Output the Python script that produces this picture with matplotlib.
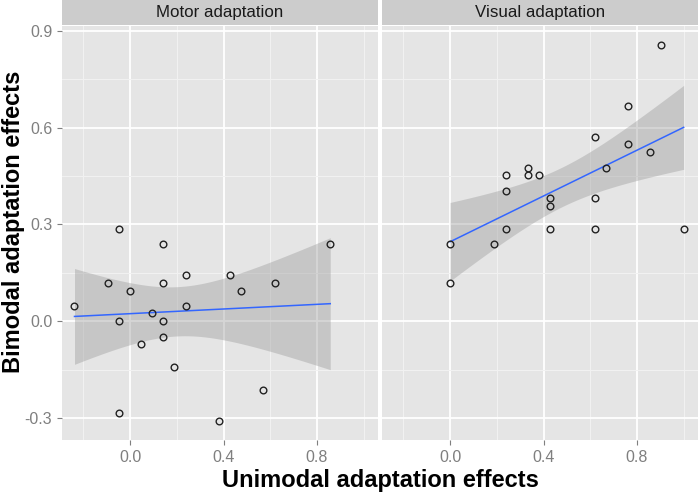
import matplotlib
matplotlib.use("Agg")
import matplotlib.pyplot as plt
import numpy as np

# data
motor_x = [0.857, 0.143, -0.048, 0.238, 0.429, -0.095, 0.143, 0.619, 0.0, 0.476, -0.238,
           0.238, 0.095, -0.048, 0.143, 0.143, 0.048, 0.190, 0.571, -0.048, 0.381]
motor_y = [0.238, 0.238, 0.286, 0.143, 0.143, 0.119, 0.119, 0.119, 0.095, 0.095, 0.048,
           0.048, 0.024, 0.0, 0.0, -0.048, -0.071, -0.143, -0.214, -0.286, -0.310]
visual_x = [0.905, 0.762, 0.619, 0.762, 0.857, 0.333, 0.667, 0.238, 0.333, 0.381, 0.238,
            0.429, 0.619, 0.429, 0.238, 0.429, 0.619, 1.0, 0.0, 0.190, 0.0]
visual_y = [0.857, 0.667, 0.571, 0.548, 0.524, 0.476, 0.476, 0.452, 0.452, 0.452, 0.405,
            0.381, 0.381, 0.357, 0.286, 0.286, 0.286, 0.286, 0.238, 0.238, 0.119]

panels = ["Motor adaptation", "Visual adaptation"]
xticks = [0.0, 0.4, 0.8]
yticks = [-0.3, 0.0, 0.3, 0.6, 0.9]
xlab = "Unimodal adaptation effects"
ylab = "Bimodal adaptation effects"

t975 = 2.093  # t quantile, df = 19

plt.rcParams['font.family'] = ['Liberation Sans', 'DejaVu Sans']

W, H = 700, 495
fig = plt.figure(figsize=(7, 4.95), dpi=100)


def box(x0, y0, x1, y1):
    # pixel box (top-left origin) -> figure fraction
    return [x0 / W, 1 - y1 / H, (x1 - x0) / W, (y1 - y0) / H]


def smooth(ax, x, y):
    x = np.array(x)
    y = np.array(y)
    n = len(x)
    b, a = np.polyfit(x, y, 1)
    xs = np.linspace(x.min(), x.max(), 80)
    ys = a + b * xs
    res = y - (a + b * x)
    s = np.sqrt(np.sum(res ** 2) / (n - 2))
    se = s * np.sqrt(1 / n + (xs - x.mean()) ** 2 / np.sum((x - x.mean()) ** 2))
    ax.fill_between(xs, ys - t975 * se, ys + t975 * se, color='#999999', alpha=0.4,
                    linewidth=0, zorder=3)
    ax.plot(xs, ys, color='#3366FF', linewidth=1.1, zorder=4)


data = [(motor_x, motor_y), (visual_x, visual_y)]
lefts = [(62, 378), (382, 698)]

for i, (title, (px, py)) in enumerate(zip(panels, data)):
    x0, x1 = lefts[i]
    ax = fig.add_axes(box(x0, 26, x1, 440))
    ax.set_facecolor('#E5E5E5')
    ax.set_xlim(-0.2915, 1.0615)
    ax.set_ylim(-0.3685, 0.9155)
    ax.set_xticks(xticks)
    ax.set_xticklabels([f"{v:.1f}" for v in xticks])
    ax.set_yticks(yticks)
    ax.set_xticks([-0.2, 0.2, 0.6, 1.0], minor=True)
    ax.set_yticks([-0.15, 0.15, 0.45, 0.75], minor=True)
    ax.grid(which='major', color='white', linewidth=1.3)
    ax.grid(which='minor', color='#F2F2F2', linewidth=0.7)
    ax.set_axisbelow(True)
    for sp in ax.spines.values():
        sp.set_visible(False)
    ax.tick_params(which='minor', length=0)
    ax.tick_params(which='major', colors='#7F7F7F', labelsize=11.5, length=3.5, width=0.8)
    if i == 0:
        ax.set_yticklabels([f"{v:.1f}" for v in yticks])
    else:
        ax.tick_params(axis='y', length=0, labelleft=False)
    for lab in ax.get_xticklabels() + ax.get_yticklabels():
        lab.set_color('#7F7F7F')

    smooth(ax, px, py)
    ax.plot(px, py, linestyle='none', marker='o', markersize=4.8, markerfacecolor='none',
            markeredgecolor='#222222', markeredgewidth=1.0, zorder=5)

    sax = fig.add_axes(box(x0, 0, x1, 25))
    sax.set_facecolor('#CCCCCC')
    sax.set_xticks([])
    sax.set_yticks([])
    for sp in sax.spines.values():
        sp.set_visible(False)
    sax.text(0.5, 0.5, title, ha='center', va='center', fontsize=12.2, color='#1A1A1A',
             transform=sax.transAxes)

fig.text(380 / W, 1 - 481 / H, xlab, ha='center', va='center', fontsize=17,
         fontweight='bold')
fig.text(14 / W, 1 - 222 / H, ylab, ha='center', va='center', rotation=90, fontsize=17,
         fontweight='bold')

fig.savefig("out.png", dpi=100)
